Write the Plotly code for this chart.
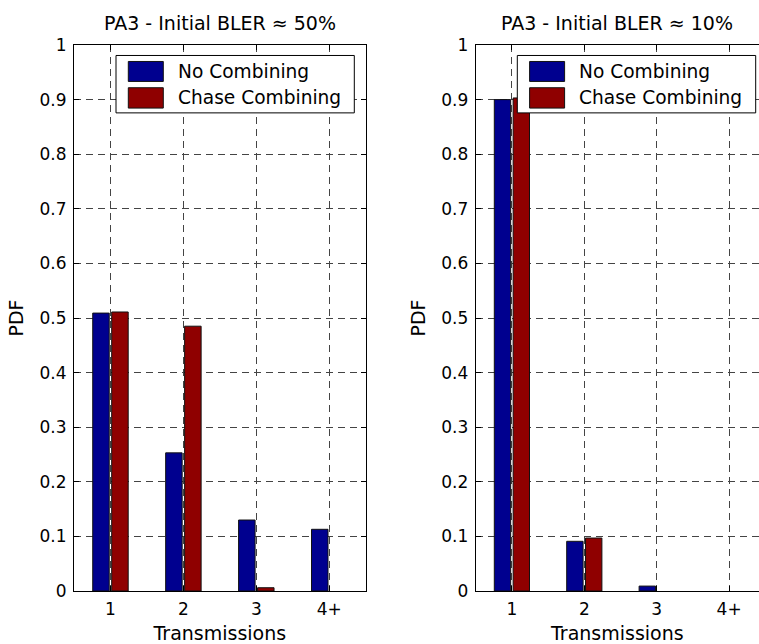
import plotly.graph_objects as go

categories = ["1", "2", "3", "4+"]
series_names = ["No Combining", "Chase Combining"]
left_no_comb = [0.509, 0.253, 0.130, 0.113]
left_chase = [0.511, 0.485, 0.006, 0.0]
right_no_comb = [0.900, 0.091, 0.009, 0.0]
right_chase = [0.903, 0.097, 0.0, 0.0]
titles = ["PA3 - Initial BLER \u2248 50%", "PA3 - Initial BLER \u2248 10%"]
colors = ["#00008F", "#8F0000"]

FONT = "DejaVu Sans"
W, H = 759, 644
ml, mt, mb = 74, 44.5, 52.5
pw, ph = W - ml, H - mt - mb


def px_x(v):
    return (v - ml) / pw


def px_y(v):
    return 1 - (v - mt) / ph


fig = go.Figure()

panels = [("x", "y", left_no_comb, left_chase),
          ("x2", "y2", right_no_comb, right_chase)]
for xa, ya, s1, s2 in panels:
    for name, vals, col in zip(series_names, [s1, s2], colors):
        fig.add_trace(go.Bar(
            x=categories, y=vals, name=name, xaxis=xa, yaxis=ya, showlegend=False,
            marker=dict(color=col,
                        line=dict(color="#111111",
                                  width=[1 if v > 0 else 0 for v in vals])),
        ))

axis_common = dict(
    showline=True, linecolor="black", linewidth=1,
    ticks="inside", ticklen=5, tickcolor="black",
    showgrid=True, gridcolor="#444444", griddash="7px,5px", gridwidth=1,
    tickfont=dict(family=FONT, size=17, color="black"),
    ticklabelstandoff=3,
    zeroline=False,
)
title_font = dict(family=FONT, size=19, color="black")

dom_left = [0, px_x(365.7)]
dom_right = [px_x(475.7), 1]
unit = 72.4
right_max = -0.5 + (W - 475.7) / unit

fig.update_layout(
    width=W, height=H,
    margin=dict(l=ml, r=0, t=mt, b=mb, pad=0),
    paper_bgcolor="white", plot_bgcolor="white",
    barmode="group", bargap=0.48, bargroupgap=0.13,
    font=dict(family=FONT, color="black"),
    showlegend=False,
    xaxis=dict(domain=dom_left, range=[-0.5, 3.5], anchor="y", mirror="ticks",
               title=dict(text="Transmissions", font=title_font, standoff=9),
               **axis_common),
    yaxis=dict(domain=[0, 1], range=[0, 1], dtick=0.1, anchor="x", mirror="ticks",
               title=dict(text="PDF", font=title_font, standoff=10),
               **axis_common),
    xaxis2=dict(domain=dom_right, range=[-0.5, right_max], anchor="y2", mirror="ticks",
                title=dict(text="Transmissions", font=title_font, standoff=9),
                **axis_common),
    yaxis2=dict(domain=[0, 1], range=[0, 1], dtick=0.1, anchor="x2", mirror=False,
                title=dict(text="PDF", font=title_font, standoff=10),
                **axis_common),
)

# titles
for i, t in enumerate(titles):
    xr = "x domain" if i == 0 else "x2 domain"
    xpos = (219.8 - 74) / (365.7 - 74) if i == 0 else 0.5
    fig.add_annotation(text=t, xref=xr, yref="paper", x=xpos, y=px_y(22.7),
                       showarrow=False, yanchor="middle", xanchor="center",
                       font=dict(family=FONT, size=19, color="black"))

# legends (MATLAB-style boxes with large swatches)
legend_boxes = [(116, 354.3), (517.3, 755.7)]
box_top, box_bot = 55, 112.5
sw_rows = [(61, 81), (87.3, 107.7)]
for bx0, bx1 in legend_boxes:
    fig.add_shape(type="rect", xref="paper", yref="paper",
                  x0=px_x(bx0), x1=px_x(bx1), y0=px_y(box_bot), y1=px_y(box_top),
                  line=dict(color="black", width=1), fillcolor="white", layer="above")
    for (r0, r1), name, col in zip(sw_rows, series_names, colors):
        fig.add_shape(type="rect", xref="paper", yref="paper",
                      x0=px_x(bx0 + 12.3), x1=px_x(bx0 + 47.3),
                      y0=px_y(r1), y1=px_y(r0),
                      line=dict(color="#111111", width=1), fillcolor=col, layer="above")
        fig.add_annotation(text=name, xref="paper", yref="paper",
                           x=px_x(bx0 + 60), y=px_y((r0 + r1) / 2),
                           xanchor="left", yanchor="middle", showarrow=False,
                           font=dict(family=FONT, size=18.6, color="black"))

fig.write_html("out.html", config={"displayModeBar": False},
               post_script="document.body.style.margin='0px';document.body.style.overflow='hidden';")
